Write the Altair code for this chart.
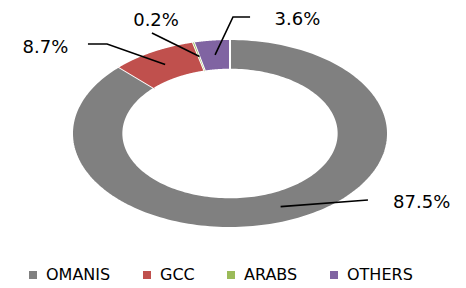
import altair as alt
import pandas as pd

# ---- data ----
categories = ["OMANIS", "GCC", "ARABS", "OTHERS"]
shares = [87.5, 8.7, 0.2, 3.6]
colors = ["#808080", "#C0504D", "#9BBB59", "#8064A2"]

# ---- label layout (in ring-normalised units: outer radius = 1) ----
label_x = [1.213, -1.168, -0.468, 0.427]
label_y = [-0.735, 0.905, 1.19, 1.206]
elbow_x = [0.873, -0.778, -0.494, 0.019]
elbow_y = [-0.704, 0.947, 1.063, 1.233]
end_x = [0.873, -0.899, -0.494, 0.127]
end_y = [-0.704, 0.947, 1.063, 1.233]

N = 200
R_OUT, R_IN = 1.0, 0.675
R_MID = (R_OUT + R_IN) / 2

df = pd.DataFrame({
    "cat": categories, "value": shares, "order": list(range(len(categories))),
    "lx": label_x, "ly": label_y, "ex1": elbow_x, "ey1": elbow_y, "ex2": end_x, "ey2": end_y,
})

xs = alt.Scale(domain=[-1.405, 1.443], nice=False, zero=False)
ys = alt.Scale(domain=[-1.635, 1.328], nice=False, zero=False)
cscale = alt.Scale(domain=categories, range=colors)

base = (
    alt.Chart(df)
    .transform_joinaggregate(total="sum(value)")
    .transform_window(cum="sum(value)", sort=[alt.SortField("order")], frame=[None, 0])
    .transform_calculate(
        a0="2*PI*(datum.cum-datum.value)/datum.total",
        a1="2*PI*datum.cum/datum.total",
    )
)

# hidden points (under the ring) that carry the legend
legend_pts = (
    base.transform_calculate(hx="0", hy=f"-{R_MID}")
    .mark_point(shape="square", filled=True, size=8, opacity=1)
    .encode(
        x=alt.X("hx:Q", scale=xs, axis=None),
        y=alt.Y("hy:Q", scale=ys, axis=None),
        fill=alt.Fill(
            "cat:N", scale=cscale,
            legend=alt.Legend(
                title=None, orient="none", legendX=17, legendY=259,
                direction="horizontal", symbolType="square", symbolSize=64,
                symbolStrokeWidth=0, labelFont="DejaVu Sans", labelFontSize=16,
                labelColor="black", columnPadding=28, labelOffset=5, labelLimit=200,
            ),
        ),
    )
)

ring = (
    base.transform_calculate(idx=f"sequence(0, {2 * N + 2})")
    .transform_flatten(["idx"])
    .transform_calculate(
        t=f"datum.idx <= {N} ? datum.idx/{N} : ({2 * N + 1}-datum.idx)/{N}",
        r=f"datum.idx <= {N} ? {R_OUT} : {R_IN}",
    )
    .transform_calculate(ang="datum.a0 + (datum.a1-datum.a0)*datum.t")
    .transform_calculate(px="datum.r*sin(datum.ang)", py="datum.r*cos(datum.ang)")
    .mark_line(stroke="white", strokeWidth=2, strokeJoin="round")
    .encode(
        x=alt.X("px:Q", scale=xs, axis=None),
        y=alt.Y("py:Q", scale=ys, axis=None),
        fill=alt.Fill("cat:N", scale=cscale, legend=None),
        detail="cat:N",
        order="idx:Q",
    )
)

leaders = (
    base.transform_calculate(mid="(datum.a0+datum.a1)/2", idx="sequence(0, 3)")
    .transform_flatten(["idx"])
    .transform_calculate(
        px=f"datum.idx==0 ? {R_MID}*sin(datum.mid) : (datum.idx==1 ? datum.ex1 : datum.ex2)",
        py=f"datum.idx==0 ? {R_MID}*cos(datum.mid) : (datum.idx==1 ? datum.ey1 : datum.ey2)",
    )
    .mark_line(color="black", strokeWidth=1.6)
    .encode(
        x=alt.X("px:Q", scale=xs, axis=None),
        y=alt.Y("py:Q", scale=ys, axis=None),
        detail="cat:N",
        order="idx:Q",
    )
)

labels = (
    base.transform_calculate(txt="format(datum.value/datum.total, '.1%')")
    .mark_text(font="DejaVu Sans", fontSize=18, align="center", baseline="middle", color="black")
    .encode(
        x=alt.X("lx:Q", scale=xs, axis=None),
        y=alt.Y("ly:Q", scale=ys, axis=None),
        text="txt:N",
    )
)

chart = (
    alt.layer(legend_pts, ring, leaders, labels)
    .properties(width=450, height=280, padding=0, autosize=alt.AutoSizeParams(type="none"))
    .configure_view(stroke=None)
)

chart.save("out.html", embed_options={"renderer": "svg", "actions": False})
